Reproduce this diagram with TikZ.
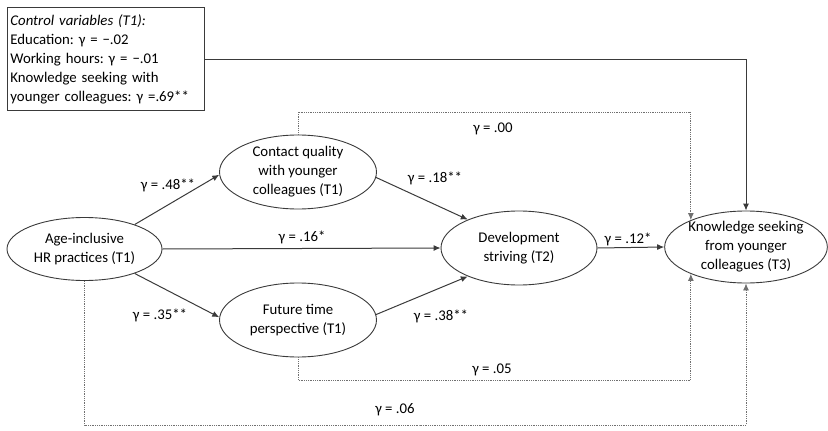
\documentclass[tikz,border=0pt]{standalone}
\usepackage{fontspec}
\setmainfont{Carlito}
\frenchspacing
\usetikzlibrary{shapes.geometric,arrows.meta}
\definecolor{ln}{HTML}{3A3A3A}
\definecolor{dt}{HTML}{707070}
\begin{document}
\begin{tikzpicture}[x=1pt,y=-1pt,
  every node/.style={font=\fontsize{14.8}{19}\selectfont, text=black},
  elli/.style={ellipse, draw=ln, line width=0.9pt, align=center, inner sep=0pt},
  arr/.style={draw=ln, line width=1pt, -{Latex[length=7pt,width=6pt]}},
  dotline/.style={draw=dt, line width=0.9pt, dash pattern=on 0.9pt off 0.9pt, -{Latex[length=7pt,width=6pt]}},
  lbl/.style={inner sep=1pt}]
\useasboundingbox (0,0) rectangle (828,431);
\node[draw=ln, line width=0.9pt, anchor=north west, align=left, text width=191pt, inner xsep=3pt, inner ysep=7pt] (ctrl) at (7,7)
  {\textit{Control variables (T1):}\\Education: γ = −.02\\Working hours: γ = −.01\\Knowledge seeking with\\younger colleagues: γ =.69**};
\node[elli, minimum width=155pt, minimum height=63pt] (age) at (84.5,249) {Age-inclusive\\HR practices (T1)};
\node[elli, minimum width=157pt, minimum height=74pt] (cq) at (298,172) {Contact quality\\with younger\\colleagues (T1)};
\node[elli, minimum width=157pt, minimum height=74pt] (ft) at (298,320) {Future time\\perspective (T1)};
\node[elli, minimum width=156pt, minimum height=74pt] (ds) at (519,248) {Development\\striving (T2)};
\node[elli, minimum width=160pt, minimum height=72pt] (ks) at (746,247) {Knowledge seeking\\from younger\\colleagues (T3)};
\coordinate (t00) at (493,112);
\coordinate (b05) at (493,380);
\coordinate (b06) at (420,425);
\draw[arr] (age.26) -- (cq.182);
\draw[arr] (age.-26) -- (ft.178);
\draw[arr] (age.east) -- (ds.west);
\draw[arr] (cq.-4) -- (ds.151);
\draw[arr] (ft.4) -- (ds.-151);
\draw[arr] (ds.east) -- (ks.west);
\draw[arr] (ctrl.east) -| (ks.north);
\draw[dotline] (cq.north) |- (t00) -| (ks.154);
\draw[dotline] (ft.south) |- (b05) -| (ks.206);
\draw[dotline] (age.south) |- (b06) -| (ks.south);
\node[lbl] (l00) at (493,129) {γ = .00};
\node[lbl] (l48) at (168,185) {γ = .48**};
\node[lbl] (l35) at (160,315) {γ = .35**};
\node[lbl] (l16) at (302,237) {γ = .16*};
\node[lbl] (l18) at (435,178) {γ = .18**};
\node[lbl] (l38) at (441,316) {γ = .38**};
\node[lbl] (l12) at (628,239) {γ = .12*};
\node[lbl] (l05) at (492,370) {γ = .05};
\node[lbl] (l06) at (395,410) {γ = .06};
\end{tikzpicture}
\end{document}
